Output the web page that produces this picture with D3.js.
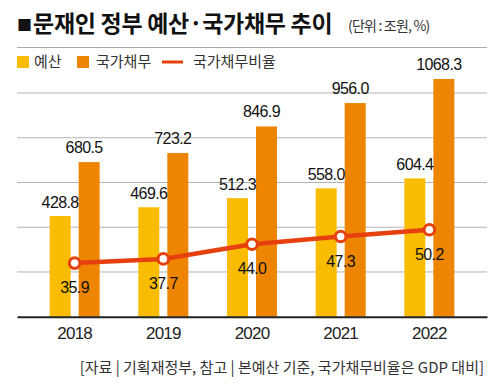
<!DOCTYPE html>
<html><head><meta charset="utf-8">
<script src="https://cdn.jsdelivr.net/npm/d3@7/dist/d3.min.js"></script>
<style>
body{margin:0;background:#fff;}
svg{display:block;}
</style></head>
<body>
<svg id="c" width="500" height="390"></svg>
<script>
const years = ["2018","2019","2020","2021","2022"];
const budget = [428.8, 469.6, 512.3, 558.0, 604.4];
const debt = [680.5, 723.2, 846.9, 956.0, 1068.3];
const ratio = [35.9, 37.7, 44.0, 47.3, 50.2];
const seriesNames = ["예산", "국가채무", "국가채무비율"];
const titleMark = "■";
const title = "문재인 정부 예산·국가채무 추이";
const unit = "(단위 : 조원, %)";
const source = "[자료 | 기획재정부, 참고 | 본예산 기준, 국가채무비율은 GDP 대비]";
const gridCount = 5;

const KR = "'Noto Sans CJK KR', 'Noto Sans', sans-serif";
const NUM = "'Liberation Sans', Arial, sans-serif";
const cYellow = "#F9BC00", cOrange = "#EE8500", cRed = "#E5400E";

const svg = d3.select("#c");
const pLeft = 17, pRight = 487, pBase = 316.7, pTop = 93;

const x = d3.scaleBand().domain(years).range([pLeft, pRight]).paddingInner(0.4).paddingOuter(0.35);
const x1 = d3.scaleBand().domain(["budget","debt"]).range([-25, 25]).paddingInner(0.276);
const y = d3.scaleLinear().domain([-41, 1003]).range([pBase, pTop]);
const y2 = d3.scaleLinear().domain([12.9, 108.9]).range([pBase, pTop]);
const g = d3.scaleLinear().domain([0, gridCount]).range([pBase, pTop]);
const cx = d => x(d) + x.bandwidth()/2;

// Title
const t = svg.append("text").attr("x", 17).attr("y", 32).attr("font-family", KR).attr("font-weight", 700)
  .attr("fill", "#111");
t.append("tspan").attr("font-size", 15).attr("dy", -1).text(titleMark);
t.append("tspan").attr("font-size", 23).attr("dx", 1).attr("dy", 1).attr("letter-spacing", -0.3).text(title);
svg.append("text").attr("x", 348).attr("y", 31).attr("font-family", KR)
  .attr("font-size", 14).attr("letter-spacing", -0.8).attr("fill", "#333").text(unit);
svg.append("line").attr("x1", pLeft).attr("x2", pRight).attr("y1", 47.5).attr("y2", 47.5)
  .attr("stroke", "#aaa").attr("stroke-width", 1);

// Legend
const lg = svg.append("g").attr("font-family", KR).attr("font-size", 15).attr("fill", "#333");
lg.append("rect").attr("x", 17).attr("y", 56).attr("width", 12).attr("height", 12).attr("fill", cYellow);
lg.append("text").attr("x", 34).attr("y", 67).text(seriesNames[0]);
lg.append("rect").attr("x", 77).attr("y", 56).attr("width", 12).attr("height", 12).attr("fill", cOrange);
lg.append("text").attr("x", 96).attr("y", 67).text(seriesNames[1]);
lg.append("line").attr("x1", 162).attr("x2", 183).attr("y1", 62).attr("y2", 62).attr("stroke", cRed).attr("stroke-width", 3);
lg.append("text").attr("x", 193).attr("y", 67).text(seriesNames[2]);

// Gridlines
svg.append("g").selectAll("line").data(d3.range(1, gridCount + 1)).join("line")
  .attr("x1", pLeft).attr("x2", pRight).attr("y1", d => g(d)).attr("y2", d => g(d))
  .attr("stroke", "#b3b3b3").attr("stroke-width", 1);

// Bars
const rows = years.map((yr, i) => ({yr, budget: budget[i], debt: debt[i], ratio: ratio[i]}));
svg.append("g").selectAll("rect").data(rows).join("rect")
  .attr("x", d => cx(d.yr) + x1("budget")).attr("width", x1.bandwidth())
  .attr("y", d => y(d.budget)).attr("height", d => pBase - y(d.budget)).attr("fill", cYellow);
svg.append("g").selectAll("rect").data(rows).join("rect")
  .attr("x", d => cx(d.yr) + x1("debt")).attr("width", x1.bandwidth())
  .attr("y", d => y(d.debt)).attr("height", d => pBase - y(d.debt)).attr("fill", cOrange);

// Baseline axis
const xAxis = d3.axisBottom(x).tickSize(0).tickPadding(10);
const ax = svg.append("g").attr("transform", `translate(0,${pBase})`).call(xAxis);
ax.select(".domain").attr("stroke", "#222").attr("stroke-width", 2);
ax.selectAll("text").attr("font-family", NUM).attr("font-size", 17).attr("fill", "#222")
  .attr("letter-spacing", -0.8).attr("dy", "0.75em");

// Bar labels
const lab = svg.append("g").attr("font-family", NUM).attr("font-size", 16).attr("fill", "#111")
  .attr("letter-spacing", -0.6).attr("text-anchor", "middle");
lab.selectAll(".b").data(rows).join("text").attr("class", "b")
  .attr("x", d => cx(d.yr) + x1("budget") + x1.bandwidth()/2).attr("y", d => y(d.budget) - 8)
  .text(d => d.budget.toFixed(1));
lab.selectAll(".d").data(rows).join("text").attr("class", "d")
  .attr("x", d => cx(d.yr) + x1("debt") + x1.bandwidth()/2 - 5).attr("y", d => y(d.debt) - 9)
  .text(d => d.debt.toFixed(1));

// Line
const line = d3.line().x(d => cx(d.yr)).y(d => y2(d.ratio));
svg.append("path").datum(rows).attr("d", line).attr("fill", "none")
  .attr("stroke", cRed).attr("stroke-width", 4.5).attr("stroke-linejoin", "round");
svg.append("g").selectAll("circle").data(rows).join("circle")
  .attr("cx", d => cx(d.yr)).attr("cy", d => y2(d.ratio)).attr("r", 5.3)
  .attr("fill", "#fff").attr("stroke", cRed).attr("stroke-width", 3);
lab.selectAll(".r").data(rows).join("text").attr("class", "r")
  .attr("x", d => cx(d.yr)).attr("y", d => y2(d.ratio) + 30)
  .text(d => d.ratio.toFixed(1));

// Source
svg.append("text").attr("x", 484).attr("y", 373).attr("text-anchor", "end").attr("font-family", KR)
  .attr("font-size", 15).attr("fill", "#333").text(source);
</script>
</body></html>
